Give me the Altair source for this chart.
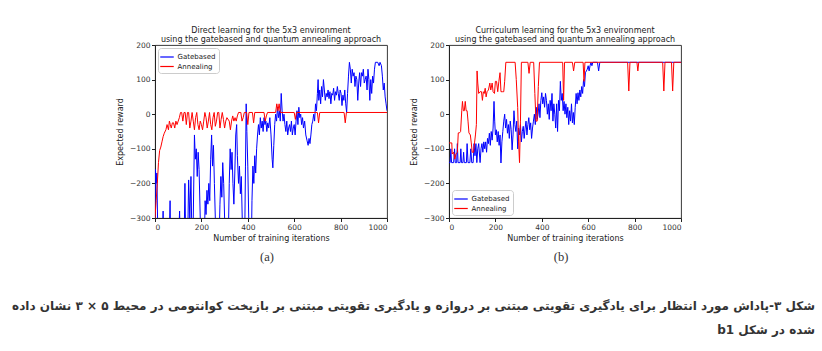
import altair as alt
import pandas as pd

FONT = "DejaVu Sans"
SERIES = ["Gatebased", "Annealing"]
COLORS = ["#0000ff", "#ff0000"]
X_TICKS = [0, 200, 400, 600, 800, 1000]
Y_TICKS = [-300, -200, -100, 0, 100, 200]
TITLE_A = ["Direct learning for the 5x3 environment",
           "using the gatebased and quantum annealing approach"]
TITLE_B = ["Curriculum learning for the 5x3 environment",
           "using the gatebased and quantum annealing approach"]
X_TITLE = "Number of training iterations"
Y_TITLE = "Expected reward"
SUB_A = "(a)"
SUB_B = "(b)"
CAPTION_1 = "شکل ۳-پاداش مورد انتظار برای یادگیری تقویتی مبتنی بر دروازه و یادگیری تقویتی مبتنی بر بازپخت کوانتومی در محیط ۵ × ۳ نشان داده"
CAPTION_2 = "\u2067شده در شکل b1\u2069"

# (iteration, expected reward)
a_anneal = [(0,-300),(5,-250),(10,-200),(15,-140),(20,-105),(25,-95),(30,-80),(35,-65),(40,-55),(47,-45),
            (52,-30),(58,-45),(62,-20),(66,-30),(70,-40),(75,-25),(80,-25),(85,-40),(90,-20),(95,-30),
            (100,-20),(105,-10),(110,5),(115,5),(120,-20),(125,5),(130,5),(135,-30),(140,5),(145,5),
            (150,-40),(155,-20),(160,5),(165,-20),(170,-45),(175,-10),(180,5),(185,-30),(190,-45),(195,-20),
            (200,-30),(205,-45),(210,-20),(215,5),(220,-10),(225,-40),(230,-20),(235,5),(240,-30),(245,-45),
            (250,-10),(255,5),(260,-35),(265,-20),(270,5),(275,5),(280,-40),(285,-15),(290,5),(295,-15),
            (300,-40),(305,-20),(310,-10),(320,-20),(325,-45),(330,-20),(335,-5),(340,-20),(345,-10),(350,-20),
            (355,-5),(360,5),(370,5),(375,-20),(380,-10),(385,5),(395,5),(400,-30),(405,5),(420,5),
            (425,-25),(430,5),(470,5),(475,-20),(480,-5),(485,5),(520,5),(525,30),(530,10),(535,30),
            (540,5),(600,5),(605,-15),(610,5),(700,5),(705,-25),(710,5),(815,5),(820,-25),(825,5),(1000,5)]

a_gate = [(0,-300),(2,-160),(5,-200),(8,-170),(11,-300),(14,-400),(30,-400),(35,-280),(38,-400),(60,-400),
          (65,-250),(68,-400),(100,-400),(106,-280),(110,-400),(125,-400),(129,-200),(133,-400),(140,-400),(145,-190),
          (150,-300),(155,-180),(160,-400),(165,-300),(170,-60),(174,-130),(178,-100),(182,-180),(186,-110),(190,-160),
          (195,-300),(200,-400),(212,-400),(216,-250),(220,-290),(224,-220),(228,-260),(232,-200),(236,-250),(240,-130),
          (244,-60),(248,-150),(252,-90),(256,-200),(260,-300),(264,-400),(275,-400),(280,-260),(284,-180),(288,-240),
          (292,-140),(296,-200),(300,-300),(304,-400),(315,-400),(320,-200),(324,-100),(328,-160),(332,-110),(336,-200),
          (340,-260),(344,-170),(348,-60),(352,-30),(355,-120),(360,-200),(364,-150),(368,-230),(372,-180),(376,-300),
          (380,-400),(386,-400),(390,-150),(393,30),(396,-50),(400,-150),(404,-300),(408,-400),(415,-400),(418,-250),
          (422,-150),(426,-200),(430,-120),(434,-170),(438,-100),(442,-60),(446,-30),(450,-60),(454,-10),(458,-40),
          (462,-20),(466,-50),(470,-10),(474,-30),(478,-20),(482,-50),(486,-25),(490,-40),(495,-10),(500,-60),
          (505,-130),(508,-155),(512,-90),(516,-30),(520,0),(524,-20),(528,20),(532,-10),(536,10),(540,-20),
          (544,60),(548,10),(552,-20),(556,0),(560,-30),(564,-50),(568,-20),(572,-60),(576,-40),(580,-30),
          (584,-50),(588,-20),(592,-60),(596,-40),(600,-30),(604,-60),(608,-20),(612,10),(616,-30),(620,20),
          (624,-10),(628,0),(632,-30),(636,-10),(640,-40),(645,-20),(650,-60),(655,-75),(660,-90),(664,-70),
          (668,-85),(672,-60),(676,-30),(680,-20),(684,0),(688,-20),(692,30),(696,10),(700,60),(703,100),
          (706,40),(710,70),(714,30),(718,80),(722,50),(726,100),(730,70),(734,40),(738,60),(742,50),
          (746,70),(750,45),(754,65),(758,30),(762,60),(766,55),(770,75),(774,40),(778,65),(782,55),
          (786,80),(790,60),(794,40),(798,70),(802,60),(806,25),(810,55),(814,40),(818,70),(822,30),
          (826,5),(830,60),(834,110),(838,150),(842,130),(846,90),(850,130),(854,110),(858,120),(862,80),
          (866,110),(870,100),(874,40),(878,90),(882,120),(886,80),(890,120),(894,110),(898,130),(902,90),
          (906,100),(910,110),(914,70),(918,130),(922,100),(926,40),(930,100),(934,60),(938,110),(942,90),
          (946,130),(950,150),(960,150),(966,140),(970,150),(976,140),(980,110),(984,70),(988,90),(992,50),
          (996,30),(1000,10)]

b_anneal = [(0,-83),(12,-83),(14,-115),(20,-110),(25,-130),(30,-115),(36,-110),(40,-54),(45,-54),(50,-50),
            (55,10),(58,37),(62,10),(66,10),(70,37),(74,10),(78,10),(82,-20),(86,-54),(92,-60),
            (96,-83),(100,-110),(106,-110),(110,-83),(114,-60),(118,-30),(121,125),(124,90),(128,60),(134,65),
            (140,65),(144,40),(148,65),(152,60),(156,75),(160,50),(164,65),(170,70),(176,90),(180,70),
            (186,90),(190,65),(196,60),(200,95),(205,95),(210,65),(215,95),(220,120),(224,65),(230,65),
            (236,65),(240,95),(245,150),(285,150),(290,100),(296,20),(300,-80),(304,-140),(308,-20),(312,150),
            (340,150),(345,118),(350,150),(365,150),(370,60),(375,-20),(380,-20),(385,80),(390,150),(490,150),
            (494,40),(498,150),(532,150),(537,125),(542,150),(578,150),(582,95),(586,150),(770,150),(775,67),
            (780,150),(810,150),(814,125),(818,150),(921,150),(926,67),(931,150),(959,150),(964,67),(969,150),
            (1000,150)]

b_gate = [(0,-140),(5,-140),(8,-100),(11,-140),(20,-140),(24,-100),(27,-140),(33,-140),(36,-85),(39,-140),
          (48,-140),(51,-100),(54,-140),(60,-140),(63,-110),(66,-140),(75,-140),(78,-85),(82,-140),(90,-140),
          (94,-100),(98,-140),(104,-140),(108,-85),(112,-120),(116,-85),(120,-140),(124,-100),(128,-85),(134,-140),
          (138,-100),(142,-85),(146,-110),(150,-80),(154,-100),(158,-80),(162,-110),(166,-70),(170,-85),(174,-55),
          (178,-90),(182,-50),(186,-75),(190,-40),(194,37),(197,-20),(200,-60),(204,-45),(208,-80),(212,-50),
          (216,-90),(220,-60),(224,-141),(228,-80),(232,-50),(236,-20),(240,0),(244,-40),(248,-15),(252,-55),
          (256,-30),(260,-70),(264,-20),(268,-45),(272,-103),(276,-60),(280,10),(284,-30),(288,-50),(292,-20),
          (296,-100),(300,-40),(304,-60),(308,-30),(312,-80),(316,-50),(320,-35),(324,-70),(328,-40),(332,-20),
          (336,-60),(340,-30),(344,-10),(348,-45),(352,-25),(356,-70),(360,-40),(364,-20),(368,0),(372,-30),
          (376,20),(380,-15),(384,0),(388,30),(392,-10),(396,40),(400,62),(404,30),(408,50),(412,20),
          (416,60),(420,40),(424,0),(428,30),(432,-15),(436,40),(440,10),(444,60),(448,-20),(452,30),
          (456,0),(460,-40),(464,30),(468,-50),(472,40),(476,10),(480,95),(484,40),(488,60),(492,10),
          (496,37),(500,0),(504,30),(508,-10),(512,20),(516,-30),(520,10),(524,-20),(528,30),(532,-25),
          (536,5),(540,-30),(544,20),(548,60),(552,30),(556,62),(560,40),(564,70),(568,50),(572,80),
          (576,60),(580,100),(584,80),(588,120),(592,125),(596,130),(600,140),(604,125),(608,140),(612,150),
          (616,140),(620,150),(640,150),(645,125),(650,150),(1000,150)]

W, H = 232, 173


def frame(pairs, name):
    df = pd.DataFrame(pairs, columns=["iteration", "reward"])
    df["series"] = name
    return df


def panel(gate, anneal, title, legend_orient, sub, caption=False):
    x = alt.X("iteration:Q", scale=alt.Scale(domain=[0, 1000], nice=False, zero=False),
              axis=alt.Axis(values=X_TICKS, title=X_TITLE, format="d"))
    y = alt.Y("reward:Q", scale=alt.Scale(domain=[-300, 200], nice=False, zero=False),
              axis=alt.Axis(values=Y_TICKS, title=Y_TITLE, format="d", titlePadding=5))
    color = alt.Color("series:N", scale=alt.Scale(domain=SERIES, range=COLORS),
                      legend=alt.Legend(title=None, orient=legend_orient, offset=3,
                                        fillColor="white", strokeColor="#cccccc",
                                        cornerRadius=3, padding=3.5, labelFont=FONT,
                                        labelFontSize=7, labelColor="#222",
                                        symbolType="M-1.5,0H1.5", symbolSize=81,
                                        symbolStrokeWidth=1.2, rowPadding=0.5,
                                        labelOffset=5))
    lg = alt.Chart(frame(gate, "Gatebased")).mark_line(strokeWidth=1, clip=True).encode(x=x, y=y, color=color)
    la = alt.Chart(frame(anneal, "Annealing")).mark_line(strokeWidth=1, clip=True).encode(x=x, y=y, color=color)
    st = alt.Chart(pd.DataFrame({"t": [sub]})).mark_text(
        font="Liberation Serif", fontSize=12.5, color="#333", align="center", baseline="middle"
    ).encode(text="t:N", x=alt.value(112), y=alt.value(212))
    layers = [lg, la, st]
    if caption:
        c1 = alt.Chart(pd.DataFrame({"t": [CAPTION_1]})).mark_text(
            font=FONT, fontSize=12, fontWeight="bold", color="#333", align="right", baseline="middle"
        ).encode(text="t:N", x=alt.value(660), y=alt.value(261))
        c2 = alt.Chart(pd.DataFrame({"t": [CAPTION_2]})).mark_text(
            font=FONT, fontSize=12, fontWeight="bold", color="#333", align="right", baseline="middle"
        ).encode(text="t:N", x=alt.value(660), y=alt.value(285))
        layers += [c1, c2]
    return alt.layer(*layers).properties(
        width=W, height=H,
        title=alt.TitleParams(text=title, fontSize=8, font=FONT, fontWeight="normal",
                              color="#222", offset=4, dy=7, lineHeight=9.5, anchor="middle"))


pa = panel(a_gate, a_anneal, TITLE_A, "top-left", SUB_A, caption=True)
pb = panel(b_gate, b_anneal, TITLE_B, "bottom-left", SUB_B)

chart = alt.hconcat(pa, pb, spacing=62, bounds="flush").resolve_scale(
    color="independent").resolve_legend(color="independent").properties(
    autosize=alt.AutoSizeParams(type="none"),
    padding={"left": 155, "top": 45, "right": 667, "bottom": 306},
    background="white",
).configure_view(stroke="#222", strokeWidth=0.9).configure_axis(
    domainColor="#222", tickColor="#222", labelColor="#333", labelFont=FONT,
    labelFontSize=7.5, titleFont=FONT, titleFontSize=8, titleFontWeight="normal",
    titleColor="#222", tickSize=3.5, grid=False, labelPadding=1.5, titlePadding=4,
)

chart.save("out.html", embed_options={"renderer": "svg", "actions": False})
